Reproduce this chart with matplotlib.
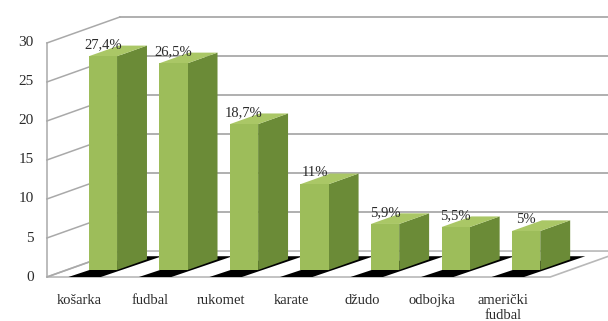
import matplotlib
matplotlib.use('Agg')
import matplotlib.pyplot as plt
from matplotlib.patches import Polygon

# Data
categories = ['košarka', 'fudbal', 'rukomet', 'karate', 'džudo', 'odbojka', 'američki\nfudbal']
values = [27.4, 26.5, 18.7, 11, 5.9, 5.5, 5]
value_labels = ['27,4%', '26,5%', '18,7%', '11%', '5,9%', '5,5%', '5%']
yticks = [0, 5, 10, 15, 20, 25, 30]

plt.rcParams['font.family'] = ['Liberation Serif', 'DejaVu Serif']

fig = plt.figure(figsize=(6.08, 3.21), dpi=100)
ax = fig.add_axes([0, 0, 1, 1])
ax.set_xlim(-1.18, 7.44)
ax.set_ylim(-5.64, 35.51)
ax.axis('off')

# oblique depth offset (full depth of the chart box) in data units
DX, DY = 1.035, 3.33
XL, XR = -0.515, 6.62
grid_c = '#a9a9a9'
txt_c = '#2b2b2b'


def pt(x, v, d):
    return (x + DX * d, v + DY * d)


# floor
floor = Polygon([pt(XL, 0, 0), pt(XR, 0, 0), pt(XR, 0, 1), pt(XL, 0, 1)],
                closed=True, facecolor='white', edgecolor='#b8b8b8', lw=1.2, zorder=1)
ax.add_patch(floor)

# walls + gridlines
ax.plot([XL, XL], [0, yticks[-1]], color=grid_c, lw=1.1, zorder=1)
for t in yticks:
    x0, y0 = pt(XL, t, 0)
    x1, y1 = pt(XL, t, 1)
    ax.plot([x0, x1], [y0, y1], color=grid_c, lw=1.1, zorder=1)
    if t > 0:
        ax.plot([x1, 9], [y1, y1], color=grid_c, lw=1.3, zorder=1)
    ax.text(x0 - 0.19, y0, str(t), ha='right', va='center', fontsize=11, color=txt_c)

# bars
front_c, side_c, top_c = '#9dbd5a', '#6b8b37', '#aac766'
d0, d1, hw = 0.27, 0.68, 0.2
for i, v in enumerate(values):
    xa, xb = i - hw, i + hw
    shadow = Polygon([pt(i - 0.21, 0, 0.0), pt(i + 0.25, 0, 0.0),
                      pt(i + 0.29, 0, 0.8), pt(i - 0.15, 0, 0.8)],
                     closed=True, facecolor='black', edgecolor='none', zorder=2)
    ax.add_patch(shadow)
    side = Polygon([pt(xb, 0, d0), pt(xb, v, d0), pt(xb, v, d1), pt(xb, 0, d1)],
                   closed=True, facecolor=side_c, edgecolor='none', zorder=3)
    ax.add_patch(side)
    top = Polygon([pt(xa, v, d0), pt(xb, v, d0), pt(xb, v, d1), pt(xa, v, d1)],
                  closed=True, facecolor=top_c, edgecolor='none', zorder=3)
    ax.add_patch(top)
    ax.bar(i + DX * d0, v, width=2 * hw, bottom=DY * d0, color=front_c, zorder=4)
    ax.text(i + DX * d0, v + DY * d0 + 1.5, value_labels[i], ha='center', va='center',
            fontsize=10.5, color=txt_c, zorder=5)
    ax.text(i - 0.05, -2.2, categories[i], ha='center', va='top', fontsize=10.5,
            color=txt_c, linespacing=1.2)

fig.savefig('out.png', dpi=100)
